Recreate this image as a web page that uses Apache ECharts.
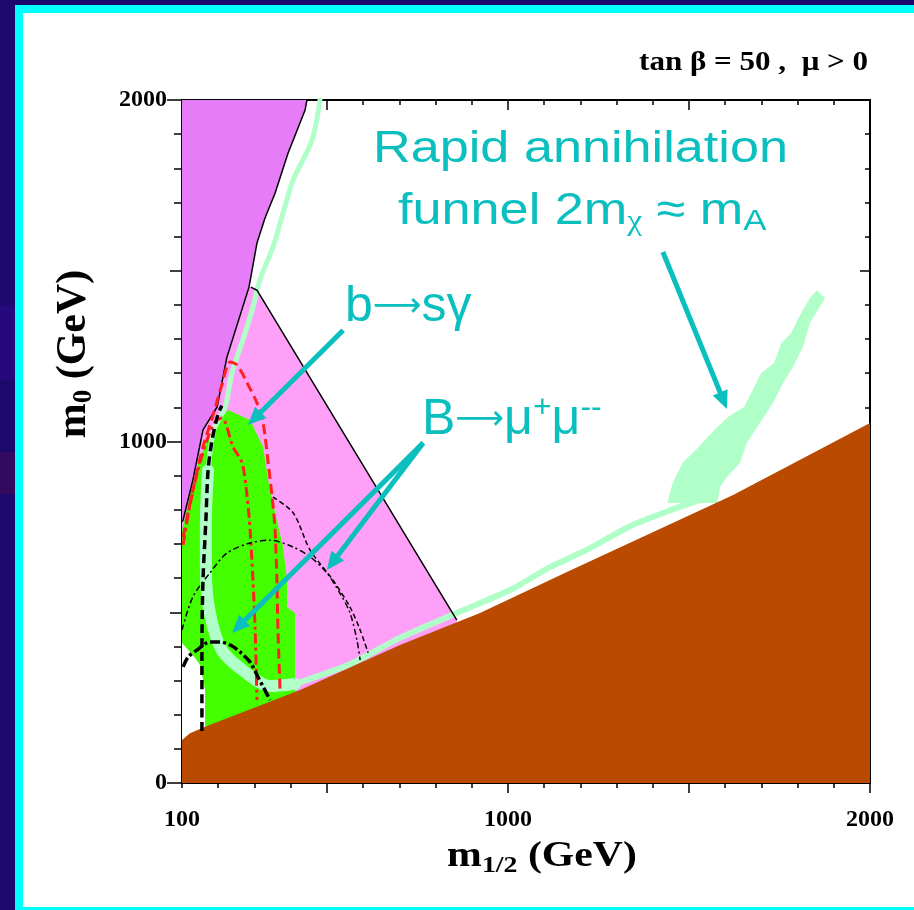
<!DOCTYPE html>
<html><head><meta charset="utf-8">
<script src="https://cdn.jsdelivr.net/npm/echarts@6/dist/echarts.min.js"></script>
<style>html,body{margin:0;padding:0;background:#1b0a6c;}#c{width:914px;height:910px;}</style>
</head><body><div id="c"></div>
<script>
// ---- axis ticks / labels ----
const m12MinorTicks = [100,200,300,400,500,600,700,800,900,1000,1100,1200,1300,1400,1500,1600,1700,1800,1900,2000];
const m12MajorTicks = [500,1000,1500,2000];
const m12Labels = [100,1000,2000];
const m0MinorTicks = [0,100,200,300,400,500,600,700,800,900,1000,1100,1200,1300,1400,1500,1600,1700,1800,1900,2000];
const m0MidTicks = [500,1500];
const m0Labels = [0,1000,2000];

// ---- regions [m1/2, m0] ----
const magentaRegion = [[100,2000],[445,2000],[440,1971],[393,1845],[357,1727],[329,1654],[307,1581],[285,1452],[224,1247],[197,1101],[158,1034],[130,887],[103,770],[100,770]];
const magentaBoundary = [[445,2000],[440,1971],[393,1845],[357,1727],[329,1654],[307,1581],[285,1452],[224,1247],[197,1101],[158,1034],[130,887],[103,770],[100,765]];
const pinkRegion = [[285,1452],[307,1443],[859,477],[859,0],[100,0],[100,770],[103,770],[130,887],[158,1034],[197,1101],[224,1247]];
const pinkEdge = [[290,1452],[307,1443],[859,477]];
const whiteRegion = [[100,412],[130,375],[150,346],[164,272],[164,0],[100,0]];
const greenRegion = [[227,1092],[288,1063],[324,984],[338,887],[357,791],[379,691],[390,594],[390,515],[412,498],[412,100],[164,100],[164,272],[150,346],[130,375],[100,410],[100,741],[122,843],[144,931],[169,1004],[197,1054]];
const brownBoundary = [[100,126],[122,146],[169,167],[426,272],[702,404],[923,498],[1163,618],[1622,843],[2000,1054]];
const funnelRegion = [[1854,1443],[1876,1420],[1834,1347],[1815,1277],[1787,1218],[1760,1171],[1732,1113],[1688,1042],[1660,996],[1641,937],[1605,896],[1586,867],[1578,820],[1440,820],[1455,878],[1482,937],[1527,984],[1570,1034],[1608,1072],[1652,1101],[1672,1142],[1699,1200],[1735,1230],[1755,1288],[1782,1318],[1810,1376],[1836,1423]];
const paleUpper = [[481,2000],[459,1883],[407,1766],[379,1669],[351,1569],[315,1473],[296,1394],[268,1297],[238,1200],[219,1101],[188,1034],[172,916]];
const paleCrescent = [[172,916],[166,770],[166,624],[177,498],[210,389],[274,325],[343,284],[412,290]];
const paleLower = [[412,290],[564,348],[702,425],[859,498],[1006,565],[1116,632],[1227,688],[1337,752],[1434,793],[1531,829]];

// ---- contour curves ----
const redDashed = [[103,720],[130,858],[158,984],[186,1078],[210,1165],[233,1233],[252,1224],[280,1171],[307,1113],[324,1054],[338,937],[349,837],[357,741],[362,594],[365,448],[371,264]];
const redDashDot = [[103,697],[122,814],[144,916],[169,1004],[191,1057],[210,1069],[241,984],[266,937],[280,837],[288,741],[296,594],[302,448],[307,243]];
const blackThickDashed = [[155,152],[155,389],[158,594],[166,770],[172,916],[183,1004],[199,1078],[210,1105]];
const blackBigArc = [[100,448],[130,545],[177,615],[224,673],[288,703],[343,711],[407,691],[454,662],[500,615],[536,556],[564,498],[583,419],[592,360]];
const blackRightArc = [[351,837],[407,791],[454,682],[517,594],[564,515],[592,448],[614,381]];
const blackSmallArc = [[103,340],[117,369],[141,389],[177,413],[205,413],[233,404],[260,384],[288,354],[310,310],[329,272],[343,243]];

// ---- annotation arrows [fromX, fromY, toX, toY] ----
const arrows = [[1428,1555,1605,1095],[545,1326,282,1048],[766,996,238,439],[766,996,500,624]];

const CYAN = '#0cbfbf';
const chart = echarts.init(document.getElementById('c'), null, {renderer:'canvas'});

function poly(pts, color, z){
  return {type:'custom', z, silent:true, data:[[pts[0][0], pts[0][1]]],
    renderItem:(p, api)=>({type:'polygon', shape:{points: pts.map(q=>api.coord(q))}, style:{fill:color}})};
}
function curve(pts, color, width, type, z, smooth, cap){
  return {type:'line', data:pts, symbol:'none', showSymbol:false, silent:true, z,
    smooth: smooth||0, lineStyle:{color, width, type, cap: cap||'butt', join:'round'}};
}
const serif = 'Liberation Serif';
const plain = v => String(v);
function xAx(pos, ticks, len, inside, labels){
  return {type:'value', min:100, max:2000, position:pos, gridIndex:0,
    axisLine:{show:true, onZero:false, lineStyle:{color:'#000', width:2}},
    axisTick:{show:true, customValues:ticks, length:len, inside, lineStyle:{color:'#000', width:1.5}},
    axisLabel: labels ? {customValues:labels, formatter:plain, fontFamily:serif, fontWeight:'bold', fontSize:24, color:'#000', margin:25} : {show:false},
    splitLine:{show:false}};
}
function yAx(pos, ticks, len, inside, labels){
  return {type:'value', min:0, max:2000, position:pos, gridIndex:0,
    axisLine:{show:true, onZero:false, lineStyle:{color:'#000', width:2}},
    axisTick:{show:true, customValues:ticks, length:len, inside, lineStyle:{color:'#000', width:1.5}},
    axisLabel: labels ? {customValues:labels, formatter:plain, fontFamily:serif, fontWeight:'bold', fontSize:24, color:'#000', margin:15} : {show:false},
    splitLine:{show:false}};
}

const axisRich = (a, b) => ({
  a:{font:'bold '+a+'px "Liberation Serif"', fill:'#000', lineHeight:a+6},
  b:{font:'bold '+b+'px "Liberation Serif"', fill:'#000', lineHeight:16, verticalAlign:'bottom'}});

const option = {
  animation:false,
  backgroundColor:'#1b0a6c',
  grid:{left:182, right:44, top:100, bottom:127, containLabel:false},
  xAxis:[
    xAx('bottom', m12MinorTicks, 5, false, m12Labels),
    xAx('bottom', m12MajorTicks, 10, false, null),
    xAx('top', m12MinorTicks, 5, true, null),
    xAx('top', m12MajorTicks, 10, true, null)
  ],
  yAxis:[
    yAx('left', m0Labels, 15, false, m0Labels),
    yAx('left', m0MidTicks, 12, false, null),
    yAx('left', m0MinorTicks, 8, false, null),
    yAx('right', m0MinorTicks, 5, true, null),
    yAx('right', m0MidTicks, 10, true, null)
  ],
  graphic:[
    {type:'rect', z:-20, shape:{x:0, y:305, width:15, height:75}, style:{fill:'#26097c'}},
    {type:'rect', z:-20, shape:{x:0, y:452, width:15, height:42}, style:{fill:'#340a5e'}},
    {type:'rect', z:-10, shape:{x:15, y:5, width:899, height:905}, style:{fill:'#00ffff'}},
    {type:'rect', z:-9, shape:{x:23, y:13, width:891, height:894}, style:{fill:'#ffffff'}},
    {type:'text', z:100, x:868, y:63, scaleX:1.15, style:{text:'tan \u03b2 = 50 ,  \u03bc > 0', font:'bold 27px "Liberation Serif"', fill:'#000', align:'right', verticalAlign:'middle'}},
    {type:'text', z:100, x:542, y:857, scaleX:1.16, style:{text:'{a|m}{b|1/2}{a| (GeV)}', align:'center', verticalAlign:'middle', rich:axisRich(36,24)}},
    {type:'text', z:100, x:74, y:354, rotation:Math.PI/2, style:{text:'{a|m}{b|0}{a| (GeV)}', align:'center', verticalAlign:'middle', rich:axisRich(42,27)}},
    {type:'text', z:100, x:373, y:150, scaleX:1.16, style:{text:'Rapid annihilation', font:'45px "Liberation Sans"', fill:CYAN, align:'left', verticalAlign:'middle'}},
    {type:'text', z:100, x:398, y:212, scaleX:1.16, style:{text:'{n|funnel 2m}{s|\u03c7}{n| \u2248 m}{t|A}', align:'left', verticalAlign:'middle',
      rich:{n:{font:'45px "Liberation Sans"', fill:CYAN, lineHeight:50},
            s:{font:'29px "Liberation Serif"', fill:CYAN, lineHeight:14, verticalAlign:'bottom'},
            t:{font:'30px "Liberation Sans"', fill:CYAN, lineHeight:14, verticalAlign:'bottom'}}}},
    {type:'text', z:100, x:345, y:307, style:{text:'{n|b}{r|\u27f6}{n|s\u03b3}', align:'left', verticalAlign:'middle',
      rich:{n:{font:'50px "Liberation Sans"', fill:CYAN, lineHeight:56},
            r:{font:'34px "DejaVu Sans"', fill:CYAN, lineHeight:56}}}},
    {type:'text', z:100, x:422, y:420, style:{text:'{n|B}{r|\u27f6}{n|\u03bc}{u|+}{n|\u03bc}{u|--}', align:'left', verticalAlign:'middle',
      rich:{n:{font:'50px "Liberation Sans"', fill:CYAN, lineHeight:56},
            r:{font:'34px "DejaVu Sans"', fill:CYAN, lineHeight:56},
            u:{font:'32px "Liberation Sans"', fill:CYAN, lineHeight:36, verticalAlign:'top'}}}}
  ],
  series:[
    poly(pinkRegion, '#ffa0f8', 1),
    poly(magentaRegion, '#e77cf9', 2),
    poly(whiteRegion, '#ffffff', 3),
    poly(greenRegion, '#44ff00', 4),
    curve(paleUpper, '#b0ffc8', 5, 'solid', 5, 0.3, 'round'),
    curve(paleCrescent, '#b0ffc8', 12, 'solid', 5, 0.3, 'round'),
    curve(paleLower, '#b0ffc8', 6, 'solid', 5, 0.2, 'round'),
    poly(funnelRegion, '#b0ffc8', 5),
    curve(magentaBoundary, '#000', 1.5, 'solid', 6, 0),
    curve(pinkEdge, '#000', 1.5, 'solid', 6, 0),
    poly(brownBoundary.concat([[2000,0],[100,0]]), '#b94a00', 7),
    curve(redDashed, '#ff2020', 3, [10,5], 8, 0.3),
    curve(redDashDot, '#ff2020', 3, [10,4,3,4], 8, 0.3),
    curve(blackThickDashed, '#000', 3.5, [9,5], 8, 0.3),
    curve(blackBigArc, '#000', 1.5, [6,3,2,3], 8, 0.3),
    curve(blackRightArc, '#000', 1.5, [5,3], 8, 0.3),
    curve(blackSmallArc, '#000', 3.5, [10,3,3,3], 8, 0.3),
    {type:'custom', z:20, silent:true, data:arrows, encode:{x:[0,2], y:[1,3]},
      renderItem:(p, api)=>{
        const a = api.coord([api.value(0), api.value(1)]);
        const b = api.coord([api.value(2), api.value(3)]);
        const dx=b[0]-a[0], dy=b[1]-a[1], L=Math.hypot(dx,dy), ux=dx/L, uy=dy/L;
        const hl=18, hw=8;
        const base=[b[0]-ux*hl, b[1]-uy*hl];
        return {type:'group', children:[
          {type:'line', shape:{x1:a[0], y1:a[1], x2:base[0]+ux*2, y2:base[1]+uy*2}, style:{stroke:CYAN, lineWidth:5}},
          {type:'polygon', shape:{points:[b,[base[0]-uy*hw, base[1]+ux*hw],[base[0]+uy*hw, base[1]-ux*hw]]}, style:{fill:CYAN}}
        ]};
      }}
  ]
};
chart.setOption(option);
</script>
</body></html>
